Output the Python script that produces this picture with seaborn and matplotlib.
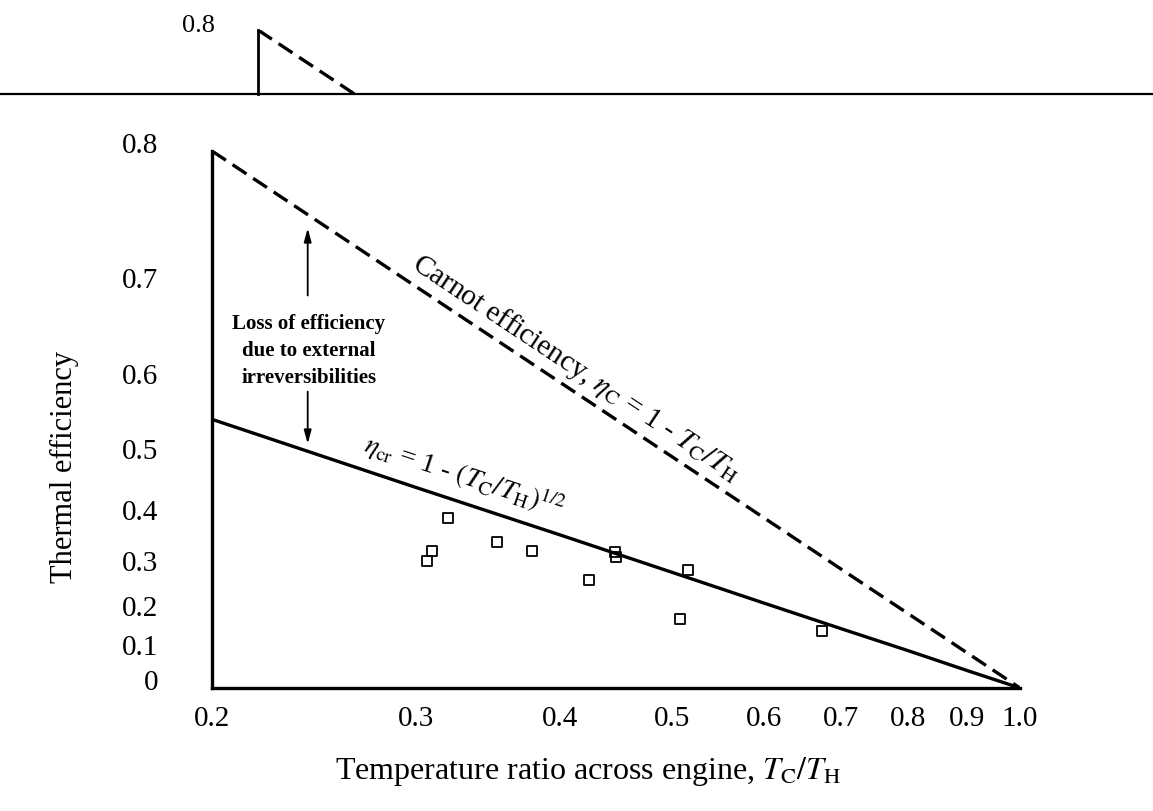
import numpy as np
import pandas as pd
import matplotlib
matplotlib.use('Agg')
import matplotlib.pyplot as plt
import matplotlib.transforms as mtransforms
from matplotlib.lines import Line2D
from matplotlib.ticker import NullLocator, NullFormatter
import seaborn as sns

# temperature ratio Tc/Th at the tick marks, and the two theoretical curves
ratio_ticks = [0.2, 0.3, 0.4, 0.5, 0.6, 0.7, 0.8, 0.9, 1.0]
ratio_labels = ['0.2', '0.3', '0.4', '0.5', '0.6', '0.7', '0.8', '0.9', '1.0']
carnot_eff = [0.8, 0.7, 0.6, 0.5, 0.4, 0.3, 0.2, 0.1, 0.0]
cr_eff = [0.553, 0.452, 0.368, 0.293, 0.225, 0.163, 0.106, 0.051, 0.0]

eff_ticks = [0.0, 0.1, 0.2, 0.3, 0.4, 0.5, 0.6, 0.7, 0.8]
eff_labels = ['0', '0.1', '0.2', '0.3', '0.4', '0.5', '0.6', '0.7', '0.8']

# measured power plants (open squares)
plant_ratio = [0.307, 0.310, 0.320, 0.353, 0.378, 0.424, 0.446, 0.447, 0.508, 0.516, 0.674]
plant_eff = [0.317, 0.337, 0.400, 0.355, 0.337, 0.277, 0.335, 0.325, 0.187, 0.298, 0.157]

lines = pd.DataFrame({'ratio': ratio_ticks, 'carnot': carnot_eff, 'cr': cr_eff})
plants = pd.DataFrame({'ratio': plant_ratio, 'eff': plant_eff})

sns.set_style('white')
plt.rcParams['font.family'] = ['Liberation Serif', 'DejaVu Serif']
plt.rcParams['mathtext.fontset'] = 'stix'
plt.rcParams['text.color'] = 'black'
plt.rcParams['axes.labelcolor'] = 'black'
plt.rcParams['xtick.color'] = 'black'
plt.rcParams['ytick.color'] = 'black'


def fwd(y):
    return -np.log(np.clip(1 - np.asarray(y, dtype=float), 1e-9, None))


def inv(u):
    return 1 - np.exp(-np.asarray(u, dtype=float))


W, H = 1153, 812
fig = plt.figure(figsize=(W / 100, H / 100), dpi=100)
fig.patch.set_facecolor('white')

# main axes
ax = fig.add_axes([212 / W, (H - 689) / H, 808 / W, 537 / H])
ax.set_xscale('log')
ax.set_yscale('function', functions=(fwd, inv))
ax.set_xlim(0.2, 1.0)
ax.set_ylim(0.0, 0.8)

sns.lineplot(data=lines, x='ratio', y='carnot', ax=ax, color='black', lw=2.4)
ax.get_lines()[-1].set_linestyle((0, (5, 2.4)))
sns.lineplot(data=lines, x='ratio', y='cr', ax=ax, color='black', lw=2.4)
sns.scatterplot(data=plants, x='ratio', y='eff', ax=ax, marker='s', s=52,
                color='black', linewidth=1.3, zorder=3)
pts = ax.collections[-1]
pts.set_facecolor('none')
pts.set_edgecolor('black')

for side in ['top', 'right']:
    ax.spines[side].set_visible(False)
for side in ['left', 'bottom']:
    ax.spines[side].set_linewidth(2.4)
    ax.spines[side].set_color('black')

ax.xaxis.set_minor_locator(NullLocator())
ax.yaxis.set_minor_locator(NullLocator())
ax.set_xticks(ratio_ticks)
ax.set_xticklabels(ratio_labels)
ax.set_yticks(eff_ticks)
ax.set_yticklabels(eff_labels)
ax.tick_params(axis='x', direction='in', length=13, width=2.2, pad=12,
               labelsize=21, colors='black')
ax.tick_params(axis='y', direction='out', length=16.5, width=2.4, pad=22,
               labelsize=21, colors='black')
ax.xaxis.get_major_ticks()[0].tick1line.set_visible(False)
ax.xaxis.get_major_ticks()[-1].tick1line.set_visible(False)
ax.yaxis.get_major_ticks()[0].tick1line.set_visible(False)
shift = mtransforms.ScaledTranslation(0, 9 / 100, fig.dpi_scale_trans)
for lab in ax.get_yticklabels():
    lab.set_transform(lab.get_transform() + shift)

ax.set_xlabel(r'Temperature ratio across engine, $T_{\rm C}/T_{\rm H}$', fontsize=23)
ax.set_ylabel('Thermal efficiency', fontsize=22)
ax.xaxis.set_label_coords(0.465, -0.122)
ax.yaxis.set_label_coords(-0.165, 0.413)


def angle(x0, y0, x1, y1):
    p0 = ax.transData.transform((x0, y0))
    p1 = ax.transData.transform((x1, y1))
    return np.degrees(np.arctan2(p1[1] - p0[1], p1[0] - p0[0]))


ax.text(0.413, 0.617, r'Carnot efficiency, $\eta_{\rm C}$ = 1 - $T_{\rm C}/T_{\rm H}$',
        rotation=angle(0.2, 0.8, 1.0, 0.0), rotation_mode='anchor',
        ha='center', va='center', fontsize=21)
ax.text(0.331, 0.471, r'$\eta_{\rm cr}$ = 1 - $(T_{\rm C}/T_{\rm H})^{1/2}$',
        rotation=angle(0.2, 0.553, 1.0, 0.0), rotation_mode='anchor',
        ha='center', va='center', fontsize=20)

ax.text(0.2425, 0.637, 'Loss of efficiency\ndue to external\nirreversibilities',
        ha='center', va='center', fontsize=15, fontweight='bold',
        linespacing=1.45)
arrow = dict(arrowstyle='-|>,head_length=0.8,head_width=0.22', color='black', lw=1.3)
ax.annotate('', xy=(0.242, 0.750), xytext=(0.242, 0.689), arrowprops=arrow)
ax.annotate('', xy=(0.242, 0.515), xytext=(0.242, 0.592), arrowprops=arrow)

# cropped copy of the chart's top left corner above the separator line
top = fig.add_axes([258 / W, (H - 95) / H, 808 / W, 64 / H])
top.set_xscale('log')
top.set_yscale('function', functions=(fwd, inv))
top.set_xlim(0.2, 1.0)
top.set_ylim(inv(fwd(0.8) - 64 / 333), 0.8)
sns.lineplot(data=lines, x='ratio', y='carnot', ax=top, color='black', lw=2.4)
top.get_lines()[-1].set_linestyle((0, (5, 2.4)))
for side in ['top', 'right', 'bottom']:
    top.spines[side].set_visible(False)
top.spines['left'].set_linewidth(2.0)
top.spines['left'].set_color('black')
top.set_facecolor('none')
top.xaxis.set_major_locator(NullLocator())
top.xaxis.set_minor_locator(NullLocator())
top.xaxis.set_minor_formatter(NullFormatter())
top.yaxis.set_minor_locator(NullLocator())
top.set_yticks([0.8])
top.set_yticklabels(['0.8'])
top.tick_params(axis='y', direction='out', length=13, width=2.4, pad=18,
                labelsize=19, colors='black')
top.set_xlabel('')
top.set_ylabel('')
for lab in top.get_yticklabels():
    lab.set_transform(lab.get_transform() + mtransforms.ScaledTranslation(0, 8 / 100, fig.dpi_scale_trans))

fig.add_artist(Line2D([0, 1], [(H - 95) / H, (H - 95) / H], transform=fig.transFigure,
                      color='black', lw=1.6))

fig.savefig('out.png', dpi=100)
